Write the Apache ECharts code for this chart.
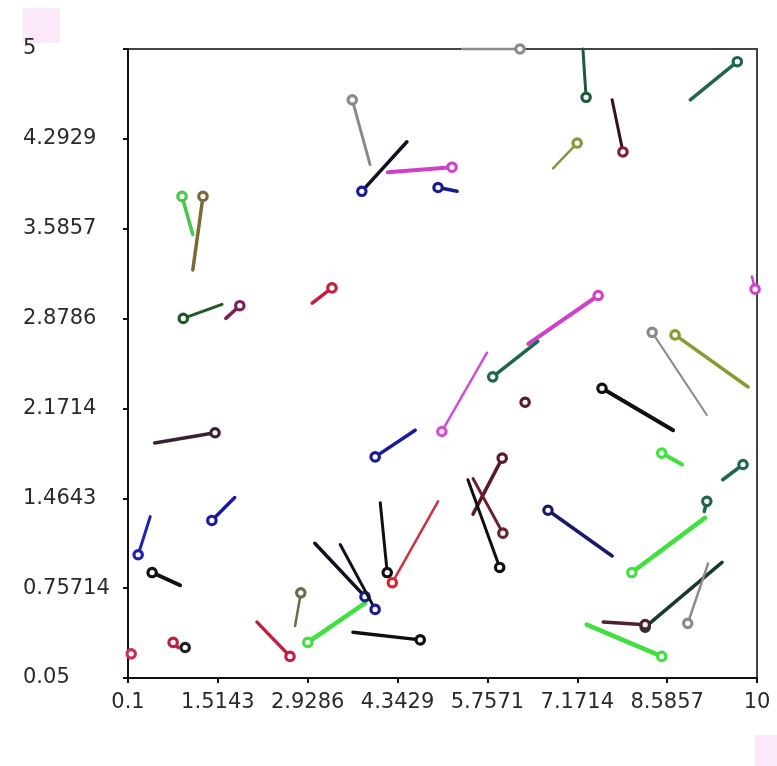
<!DOCTYPE html>
<html>
<head>
<meta charset="utf-8">
<script src="https://cdn.jsdelivr.net/npm/echarts@6/dist/echarts.min.js"></script>
<style>
html,body{margin:0;padding:0;background:#fff;}
#chart{width:777px;height:766px;}
</style>
</head>
<body>
<div id="chart"></div>
<script>
// Tick labels
const xTickLabels = ['0.1','1.5143','2.9286','4.3429','5.7571','7.1714','8.5857','10'];
const yTickLabels = ['0.05','0.75714','1.4643','2.1714','2.8786','3.5857','4.2929','5'];

// Segment head (circle end) and tail coordinates
const headX = [6.27,7.31,7.89,9.69,7.17,3.63,3.78,5.20,4.98,1.28,0.95,0.97,1.86,3.31,7.50,5.84,5.04,9.97,8.35,8.71,7.56,6.35,3.99,1.47,1.42,0.26,0.48,0.15,0.81,1.00,2.65,2.82,2.93,3.83,3.99,4.18,4.26,4.70,5.99,6.00,5.95,6.71,8.50,9.78,9.21,8.03,8.24,8.24,8.91,8.50];
const headY = [5.00,4.62,4.19,4.90,4.26,4.60,3.88,4.07,3.91,3.84,3.84,2.88,2.98,3.12,3.06,2.42,1.99,3.11,2.77,2.75,2.33,2.22,1.79,1.98,1.29,1.02,0.88,0.24,0.33,0.29,0.22,0.72,0.33,0.69,0.59,0.88,0.80,0.35,1.78,1.19,0.92,1.37,1.82,1.73,1.44,0.88,0.45,0.47,0.48,0.22];
const tailX = [5.36,7.26,7.72,8.95,6.79,3.91,4.49,4.19,5.28,1.12,1.12,1.58,1.64,3.00,6.40,6.55,5.75,9.92,9.21,9.86,8.68,6.35,4.62,0.52,1.78,0.45,0.92,0.15,0.89,1.00,2.13,2.73,3.83,3.04,3.44,4.07,4.98,3.64,5.53,5.53,5.45,7.72,8.82,9.46,9.17,9.18,9.45,7.58,9.23,7.32];
const tailY = [5.00,5.00,4.60,4.60,4.06,4.09,4.27,4.03,3.88,3.26,3.54,2.99,2.88,3.00,2.68,2.70,2.61,3.21,2.12,2.34,2.00,2.22,2.00,1.90,1.47,1.32,0.78,0.24,0.29,0.29,0.49,0.46,0.64,1.11,1.10,1.43,1.44,0.41,1.34,1.62,1.61,1.01,1.73,1.61,1.36,1.31,0.96,0.49,0.95,0.47];

// Styles (separate from data)
const lineColors = ['#8a8a8a','#1e5a3a','#3a1018','#1f6650','#8c9440','#8a8a8a','#101020','#d040c8','#1a1a8c','#7a6a38','#48c848','#1c5a2c','#7a2058','#c02040','#d040c8','#1f6650','#d050d0','#d040c8','#8a8a8a','#8a9a30','#101010','#5a1a28','#1a1a9c','#3a2030','#1a1aa8','#2020b0','#101010','#c83050','#c02040','#202020','#c02040','#6a6a48','#40e040','#101020','#101020','#101010','#d03040','#101010','#5a1a28','#6a2030','#101010','#1a1a6a','#40e040','#1f6650','#1f6650','#40e040','#1a3a28','#502030','#8a8a8a','#40e040'];
const headColors = lineColors.map((c,i)=>{
  if (i===6||i===33||i===34) return '#1a1a9a';
  if (i===2) return '#802030';
  if (i===36) return '#e02030';
  return c;
});
const lineWidths = [2.5,3,3,3.5,2.5,3,3.5,4,3.5,3.5,3.5,3,3.5,3.5,4,3.5,2.5,2.5,2,3.5,4,2.5,3.5,3.5,3.5,3,4,2.5,3.5,2.5,3.5,2.5,4.5,3.5,3,3,2.5,3.5,3.5,3,3,3.5,4,3.5,3.5,4.5,3.5,3.5,2.5,4.5];

const segData = headX.map((x,i)=>[x, headY[i], tailX[i], tailY[i]]);
const xTickVals = xTickLabels.map(Number);
const yTickVals = yTickLabels.map(Number);

function nearestLabel(v, vals, labels){
  let best=0, d=Infinity;
  vals.forEach((t,i)=>{ const dd=Math.abs(t-v); if(dd<d){d=dd;best=i;} });
  return labels[best];
}

const chart = echarts.init(document.getElementById('chart'), null, {renderer:'canvas'});
const labelFont = {fontFamily:'DejaVu Sans', fontSize:21, color:'#2a2a2a'};

chart.setOption({
  animation:false,
  backgroundColor:'#fff',
  graphic:[
    {type:'rect', shape:{x:23,y:8,width:37,height:35}, style:{fill:'#fbe8f8'}, z:-10},
    {type:'rect', shape:{x:755,y:735,width:22,height:31}, style:{fill:'#fbe8f8'}, z:-10}
  ],
  grid:{left:128, right:20, top:49, bottom:88, show:true, borderColor:'#444', borderWidth:2, backgroundColor:'transparent'},
  xAxis:{
    type:'value', min:0.1, max:10,
    splitLine:{show:false},
    axisLine:{show:true, onZero:false, lineStyle:{color:'#111', width:2}},
    axisTick:{show:true, length:5, lineStyle:{color:'#111', width:2}, customValues:xTickVals},
    axisLabel:Object.assign({margin:14, customValues:xTickVals, formatter:v=>nearestLabel(v,xTickVals,xTickLabels)}, labelFont)
  },
  yAxis:{
    type:'value', min:0.05, max:5,
    splitLine:{show:false},
    axisLine:{show:true, onZero:false, lineStyle:{color:'#111', width:2}},
    axisTick:{show:true, length:5, lineStyle:{color:'#111', width:2}, customValues:yTickVals},
    axisLabel:Object.assign({margin:105, align:'left', customValues:yTickVals, formatter:v=>nearestLabel(v,yTickVals,yTickLabels)}, labelFont)
  },
  series:[{
    type:'custom',
    coordinateSystem:'cartesian2d',
    clip:false,
    data:segData,
    encode:{x:[0,2], y:[1,3]},
    renderItem:function(params, api){
      const i = params.dataIndex;
      const h = api.coord([api.value(0), api.value(1)]);
      const t = api.coord([api.value(2), api.value(3)]);
      return {
        type:'group',
        children:[
          {type:'line', shape:{x1:t[0],y1:t[1],x2:h[0],y2:h[1]},
           style:{stroke:lineColors[i], lineWidth:lineWidths[i], lineCap:'round'}},
          {type:'circle', shape:{cx:h[0], cy:h[1], r:4.2},
           style:{fill:'#fff', stroke:headColors[i], lineWidth:3.2}}
        ]
      };
    }
  }]
});
</script>
</body>
</html>
